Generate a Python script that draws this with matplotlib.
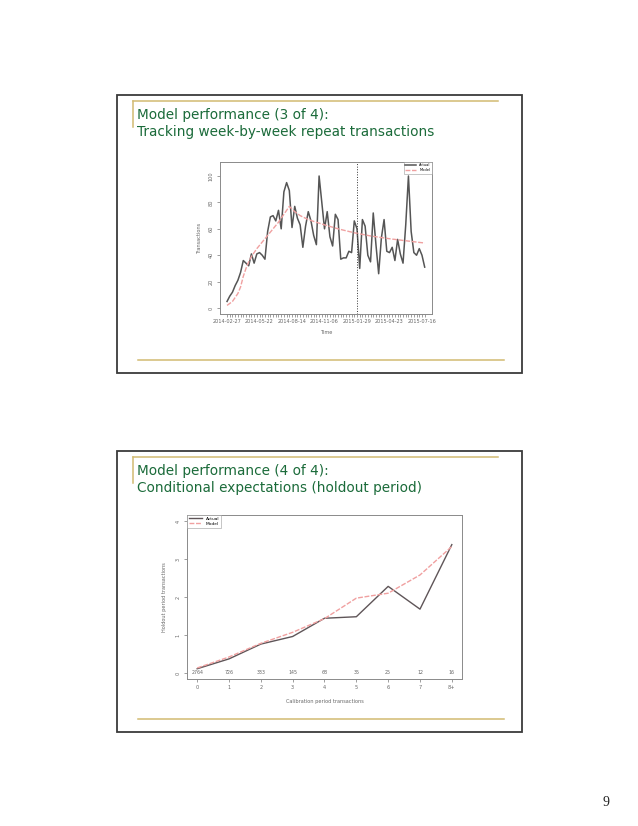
import matplotlib
matplotlib.use("Agg")
import matplotlib.pyplot as plt
from matplotlib.patches import Rectangle
from matplotlib.lines import Line2D

# ---- data: slide 1 (weekly repeat transactions) ----
week_dates = ["2014-02-27", "2014-05-22", "2014-08-14", "2014-11-06",
              "2015-01-29", "2015-04-23", "2015-07-16"]
actual_weekly = [5, 9, 12, 17, 21, 27, 36, 34, 32, 41,
                 34, 41, 42, 40, 37, 58, 69, 70, 66, 74,
                 60, 88, 95, 89, 61, 77, 68, 63, 46, 62,
                 73, 66, 55, 48, 100, 80, 60, 73, 54, 47,
                 71, 67, 37, 38, 38, 43, 42, 66, 60, 30,
                 67, 62, 40, 35, 72, 48, 26, 53, 67, 43,
                 42, 46, 36, 52, 41, 34, 63, 100, 58, 42,
                 40, 45, 40, 31]
model_weekly = [2, 3.5, 5, 8, 11, 16, 24, 30, 35, 39,
                42, 45, 47.5, 50, 52.5, 55, 57.5, 60, 62.5, 65,
                68, 71, 74, 77, 75, 73, 71.5, 70, 69, 68,
                67, 66.3, 65.6, 65, 64.3, 63.7, 63, 62.4, 61.8, 61.2,
                60.6, 60, 59.5, 59, 58.5, 58, 57.5, 57, 56.6, 56.2,
                55.8, 55.4, 55, 54.6, 54.3, 54, 53.7, 53.4, 53.1, 52.8,
                52.5, 52.2, 52, 51.7, 51.5, 51.2, 51, 50.7, 50.5, 50.2,
                50, 49.7, 49.5, 49.2]
calib_end_week = 48

# ---- data: slide 2 (conditional expectations) ----
calib_labels = ["0", "1", "2", "3", "4", "5", "6", "7", "8+"]
actual_cond = [0.11, 0.37, 0.76, 0.96, 1.44, 1.48, 2.28, 1.68, 3.38]
model_cond = [0.13, 0.42, 0.78, 1.07, 1.43, 1.97, 2.10, 2.58, 3.33]
bin_counts = ["2764", "726", "333", "145", "68", "35", "25", "12", "16"]

W, H = 638, 826
GREEN = "#1b6b3a"
GOLD = "#d2bb72"
ACT = "#555555"
MOD = "#f0a0a0"
TXT = "#666666"
DASH = (0, (3.5, 1.2))


def fx(x):
    return x / W


def fy(y):
    return 1 - y / H


def rect_ax(fig, l, t, r, b):
    return fig.add_axes([fx(l), fy(b), (r - l) / W, (b - t) / H])


fig = plt.figure(figsize=(W / 100, H / 100), dpi=100)
fig.patch.set_facecolor("white")


def slide(top, bottom, line1, line2):
    fig.add_artist(Rectangle((fx(116.5), fy(bottom)), (521.5 - 116.5) / W,
                             (bottom - top) / H, transform=fig.transFigure,
                             fill=False, edgecolor="#3a3a3a", lw=1.3))
    # gold rules
    fig.add_artist(Line2D([fx(133), fx(498)], [fy(top + 6), fy(top + 6)],
                          transform=fig.transFigure, color=GOLD, lw=1.1))
    fig.add_artist(Line2D([fx(133), fx(133)], [fy(top + 6), fy(top + 32)],
                          transform=fig.transFigure, color=GOLD, lw=1.1))
    fig.add_artist(Line2D([fx(138), fx(504)], [fy(bottom - 13), fy(bottom - 13)],
                          transform=fig.transFigure, color=GOLD, lw=1.1))
    fig.text(fx(137), fy(top + 20), line1, color=GREEN, fontsize=9.8,
             va="center", ha="left", family="DejaVu Sans")
    fig.text(fx(137), fy(top + 37), line2, color=GREEN, fontsize=9.8,
             va="center", ha="left", family="DejaVu Sans")


def style_r(ax):
    for s in ax.spines.values():
        s.set_color("#8a8a8a")
        s.set_linewidth(0.7)
    ax.tick_params(colors="#777777", labelcolor=TXT, labelsize=3.6,
                   length=2.5, width=0.5, pad=2)


slide(95, 373, "Model performance (3 of 4):",
      "Tracking week-by-week repeat transactions")
slide(451, 732, "Model performance (4 of 4):",
      "Conditional expectations (holdout period)")

# ---- chart 1 ----
ax1 = rect_ax(fig, 220, 162, 432, 314)
weeks = list(range(len(actual_weekly)))
ax1.plot(weeks, actual_weekly, color=ACT, lw=1.1, label="Actual")
ax1.plot(weeks, model_weekly, color=MOD, lw=1.0, ls=DASH, label="Model")
ax1.axvline(calib_end_week, color="#333333", lw=0.7, ls=":")
ax1.set_xlim(-2.6, 75.7)
ax1.set_ylim(-4.5, 110.6)
ax1.set_xticks(weeks)
ax1.set_xticklabels([week_dates[w // 12] if w % 12 == 0 else "" for w in weeks])
ax1.set_yticks([0, 20, 40, 60, 80, 100])
ax1.set_yticklabels(["0", "20", "40", "60", "80", "100"], rotation=90, va="center")
style_r(ax1)
ax1.tick_params(axis="x", length=1.8)
ax1.set_xlabel("Time", fontsize=3.6, color=TXT, labelpad=4)
ax1.set_ylabel("Transactions", fontsize=3.6, color=TXT, labelpad=5)
leg1 = ax1.legend(loc="upper right", fontsize=2.6, frameon=True, fancybox=False,
                  borderpad=0.4, handlelength=3, borderaxespad=0,
                  labelspacing=0.2)
leg1.get_frame().set_edgecolor("#999999")
leg1.get_frame().set_linewidth(0.5)

# ---- chart 2 ----
ax2 = rect_ax(fig, 187, 515, 462, 679)
xs = list(range(len(calib_labels)))
ax2.plot(xs, actual_cond, color="#5f5558", lw=1.0, label="Actual")
ax2.plot(xs, model_cond, color=MOD, lw=1.0, ls=DASH, label="Model")
for x, c in zip(xs, bin_counts):
    ax2.text(x, 0, c, fontsize=3.4, color=TXT, ha="center", va="center")
ax2.set_xlim(-0.32, 8.32)
ax2.set_ylim(-0.16, 4.16)
ax2.set_xticks(xs)
ax2.set_xticklabels(calib_labels)
ax2.set_yticks([0, 1, 2, 3, 4])
ax2.set_yticklabels(["0", "1", "2", "3", "4"], rotation=90, va="center")
style_r(ax2)
ax2.set_xlabel("Calibration period transactions", fontsize=3.6, color=TXT, labelpad=6)
ax2.set_ylabel("Holdout period transactions", fontsize=3.6, color=TXT, labelpad=6)
leg2 = ax2.legend(loc="upper left", fontsize=3.2, frameon=True, fancybox=False,
                  borderpad=0.4, handlelength=3, borderaxespad=0,
                  labelspacing=0.2)
leg2.get_frame().set_edgecolor("#999999")
leg2.get_frame().set_linewidth(0.5)

fig.text(fx(606), fy(802), "9", fontsize=10, family="Liberation Serif",
         ha="center", va="center", color="#222222")

fig.savefig("out.png", dpi=100)
